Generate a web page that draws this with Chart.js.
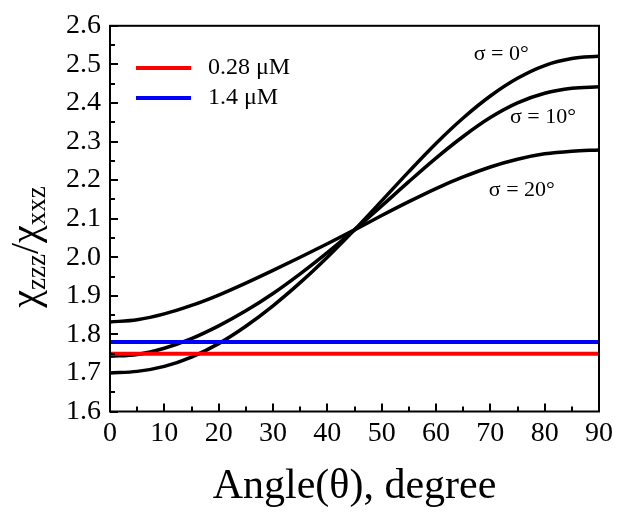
<!DOCTYPE html>
<html>
<head>
<meta charset="utf-8">
<script src="https://cdn.jsdelivr.net/npm/chart.js@4/dist/chart.umd.min.js"></script>
<style>
  html, body { margin: 0; padding: 0; background: #fff; }
  #wrap { width: 620px; height: 517px; }
</style>
</head>
<body>
<div id="wrap"><canvas id="chart" width="620" height="517"></canvas></div>
<script>
    // Tilt angle (degree)
    const angles = [0, 5, 10, 15, 20, 25, 30, 35, 40, 45, 50, 55, 60, 65, 70, 75, 80, 85, 90];

    // chi_zzz / chi_xxz for each distribution width
    const sigma0 = [1.700, 1.704, 1.717, 1.741, 1.776, 1.821, 1.874, 1.934, 2.000, 2.071, 2.146, 2.222, 2.295, 2.361, 2.418, 2.464, 2.497, 2.515, 2.521];
    const sigma10 = [1.743, 1.748, 1.764, 1.789, 1.822, 1.861, 1.906, 1.957, 2.012, 2.071, 2.133, 2.196, 2.257, 2.313, 2.362, 2.400, 2.425, 2.438, 2.442];
    const sigma20 = [1.832, 1.838, 1.853, 1.875, 1.902, 1.933, 1.966, 2.000, 2.035, 2.071, 2.108, 2.144, 2.178, 2.208, 2.234, 2.254, 2.268, 2.275, 2.278];
    const sigmaLabels = ['σ = 0°', 'σ = 10°', 'σ = 20°'];
    // where each sigma label sits (angle, ratio)
    const sigmaLabelAt = [[72, 2.527], [79.7, 2.363], [75.8, 2.175]];

    // Measured ratios (flat lines)
    const concLabels = ['0.28 μM', '1.4 μM'];
    const concValues = [1.75, 1.78];
    const concColors = ['#ff0000', '#0000ff'];

    const serif = "'Liberation Serif', 'Times New Roman', serif";

    function toPoints(ys) {
        return angles.map((a, i) => ({ x: a, y: ys[i] }));
    }
    function flatPoints(v) {
        return [{ x: angles[0], y: v }, { x: angles[angles.length - 1], y: v }];
    }

    const curveSets = [sigma0, sigma10, sigma20].map((ys, i) => ({
        label: sigmaLabels[i],
        data: toPoints(ys),
        borderColor: '#000',
        borderWidth: 3.5,
        pointRadius: 0,
        cubicInterpolationMode: 'monotone',
        order: 2
    }));
    const concSets = concValues.map((v, i) => ({
        label: concLabels[i],
        data: flatPoints(v),
        borderColor: concColors[i],
        borderWidth: 4,
        pointRadius: 0,
        order: 1
    }));

    // frame, inward ticks, legend, sigma labels, y title
    const decorPlugin = {
        id: 'decor',
        afterDraw(chart) {
            const ctx = chart.ctx;
            const a = chart.chartArea;
            const xs = chart.scales.x, ys = chart.scales.y;
            ctx.save();
            ctx.strokeStyle = '#000';
            ctx.lineWidth = 2;
            ctx.strokeRect(a.left, a.top, a.right - a.left, a.bottom - a.top);

            ctx.beginPath();
            xs.ticks.forEach(t => {
                const px = Math.round(xs.getPixelForValue(t.value));
                const len = (Math.round(t.value) % 10 === 0) ? 8 : 5;
                ctx.moveTo(px, a.bottom);
                ctx.lineTo(px, a.bottom - len);
            });
            ys.ticks.forEach(t => {
                const py = Math.round(ys.getPixelForValue(t.value));
                const len = (Math.round(t.value * 100) % 10 === 0) ? 8 : 5;
                ctx.moveTo(a.left, py);
                ctx.lineTo(a.left + len, py);
            });
            ctx.stroke();

            // legend
            ctx.font = '24px ' + serif;
            ctx.textBaseline = 'middle';
            ctx.textAlign = 'left';
            concLabels.forEach((lab, i) => {
                const y = 68 + i * 30;
                ctx.strokeStyle = concColors[i];
                ctx.lineWidth = 4;
                ctx.beginPath();
                ctx.moveTo(136, y);
                ctx.lineTo(191, y);
                ctx.stroke();
                ctx.fillStyle = '#000';
                ctx.fillText(lab, 208, y);
            });

            // sigma labels
            ctx.font = '22px ' + serif;
            ctx.textAlign = 'center';
            sigmaLabels.forEach((lab, i) => {
                const [ax, ay] = sigmaLabelAt[i];
                ctx.fillText(lab, xs.getPixelForValue(ax), ys.getPixelForValue(ay));
            });

            // y axis title: chi_zzz / chi_xxz
            const parts = [
                ['χ', 40, 0], ['zzz', 27, 7], ['/', 40, 0], ['χ', 40, 0], ['xxz', 27, 7]
            ];
            ctx.translate(38, 247);
            ctx.rotate(-Math.PI / 2);
            ctx.textAlign = 'left';
            ctx.textBaseline = 'alphabetic';
            let total = 0;
            parts.forEach(p => { ctx.font = p[1] + 'px ' + serif; total += ctx.measureText(p[0]).width; });
            let cx = -total / 2;
            parts.forEach(p => {
                ctx.font = p[1] + 'px ' + serif;
                ctx.fillText(p[0], cx, p[2]);
                cx += ctx.measureText(p[0]).width;
            });
            ctx.restore();
        }
    };

    const ctxChart = document.getElementById('chart').getContext('2d');
    new Chart(ctxChart, {
        type: 'line',
        data: { datasets: curveSets.concat(concSets) },
        options: {
            responsive: false,
            animation: false,
            layout: { padding: { top: 19, right: 21, left: 0, bottom: 0 } },
            plugins: {
                legend: { display: false },
                tooltip: { enabled: false }
            },
            scales: {
                x: {
                    type: 'linear',
                    min: 0,
                    max: 90,
                    afterFit(scale) { scale.height = 105.5; },
                    ticks: {
                        stepSize: 5,
                        autoSkip: false,
                        maxRotation: 0,
                        padding: 5,
                        color: '#000',
                        font: { family: serif, size: 28 },
                        callback: v => (Math.round(v) % 10 === 0 ? String(v) : '')
                    },
                    grid: { display: false, drawTicks: false },
                    border: { display: false },
                    title: {
                        display: true,
                        text: 'Angle(θ), degree',
                        color: '#000',
                        font: { family: serif, size: 42 },
                        padding: { top: 0, bottom: 5 }
                    }
                },
                y: {
                    min: 1.6,
                    max: 2.6,
                    afterFit(scale) { scale.width = 110; },
                    ticks: {
                        stepSize: 0.05,
                        autoSkip: false,
                        padding: 9,
                        color: '#000',
                        font: { family: serif, size: 28 },
                        callback: v => (Math.round(v * 100) % 10 === 0 ? v.toFixed(1) : '')
                    },
                    grid: { display: false, drawTicks: false },
                    border: { display: false }
                }
            }
        },
        plugins: [decorPlugin]
    });
</script>
</body>
</html>
